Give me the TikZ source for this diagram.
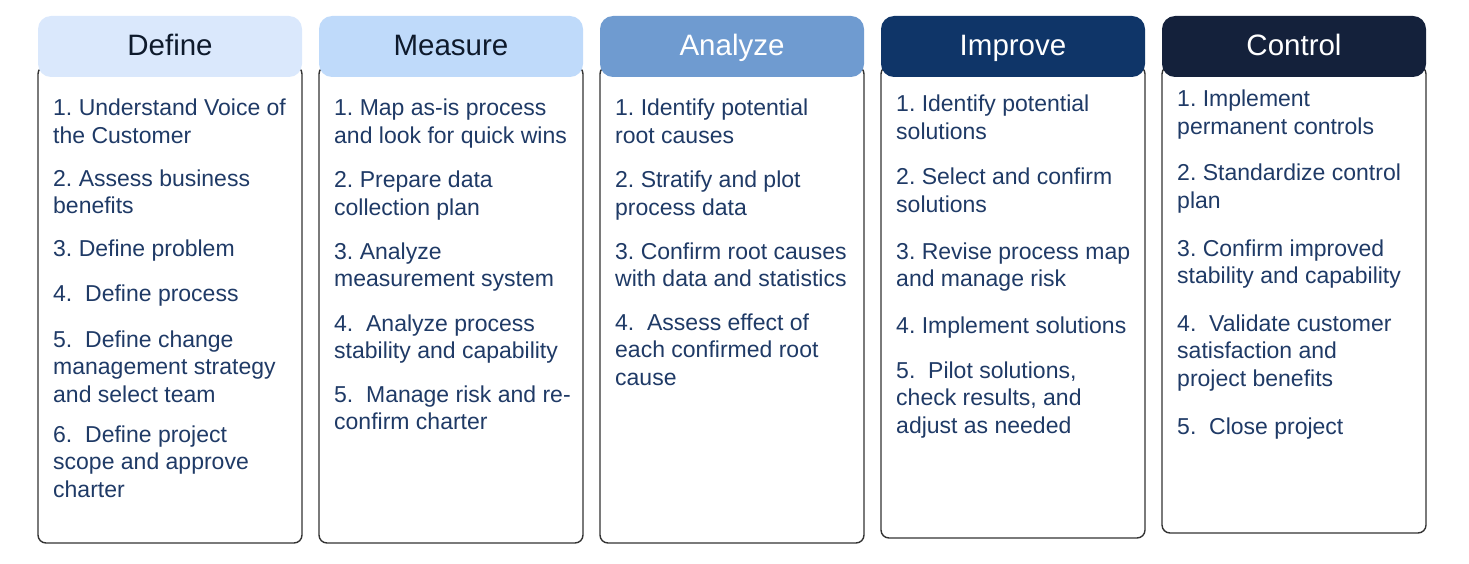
\documentclass[tikz,border=0pt]{standalone}
\usepackage{fontspec}
\setmainfont{Liberation Sans}
\frenchspacing
\definecolor{txt}{HTML}{1F3A66}
\definecolor{hdark}{HTML}{0E1A2C}
\definecolor{cDefine}{HTML}{DAE8FC}
\definecolor{cMeasure}{HTML}{BFDAFA}
\definecolor{cAnalyze}{HTML}{6F9BD0}
\definecolor{cImprove}{HTML}{0F3568}
\definecolor{cControl}{HTML}{14213B}
\definecolor{frame}{HTML}{333333}
\newcommand{\itm}[1]{\parbox[t]{262pt}{\raggedright\frenchspacing #1}}
\begin{document}
\begin{tikzpicture}[x=1pt,y=-1pt,
  colbox/.style={draw=frame, line width=1.4pt, rounded corners=8pt, fill=white},
  headtxt/.style={font=\fontsize{29.5}{34}\selectfont, anchor=base, inner sep=0pt},
  itemtxt/.style={anchor=base west, inner sep=0pt, text=txt, font=\fontsize{23}{27.7}\selectfont}]
\useasboundingbox (0,0) rectangle (1469,564);
% columns: left x, bottom y, colour, header text colour, name
\foreach \n/\lx/\by/\col/\tc/\lab in {D/38/543/cDefine/hdark/Define, M/319/543/cMeasure/hdark/Measure, A/600/543/cAnalyze/white/Analyze, I/881/538/cImprove/white/Improve, C/1162/533/cControl/white/Control}{
  \draw[colbox] (\lx,66) rectangle ({\lx+264},\by);
  \fill[\col, rounded corners=13pt] (\lx,16) rectangle ({\lx+264},77);
  \node[headtxt, text=\tc] (h\n) at ({\lx+132},56) {\lab};
}
% Define
\node[itemtxt] (d1) at (53,116) {\itm{1. Understand Voice of\\the Customer}};
\node[itemtxt] (d2) at (53,186) {\itm{2. Assess business\\benefits}};
\node[itemtxt] (d3) at (53,256) {\itm{3. Define problem}};
\node[itemtxt] (d4) at (53,301) {\itm{4.\ \ Define process}};
\node[itemtxt] (d5) at (53,347) {\itm{5.\ \ Define change\\management strategy\\and select team}};
\node[itemtxt] (d6) at (53,442) {\itm{6.\ \ Define project\\scope and approve\\charter}};
% Measure
\node[itemtxt] (m1) at (334,116) {\itm{1. Map as-is process\\and look for quick wins}};
\node[itemtxt] (m2) at (334,188) {\itm{2. Prepare data\\collection plan}};
\node[itemtxt] (m3) at (334,259) {\itm{3. Analyze\\measurement system}};
\node[itemtxt] (m4) at (334,331) {\itm{4.\ \ Analyze process\\stability and capability}};
\node[itemtxt] (m5) at (334,402) {\itm{5.\ \ Manage risk and re-\\confirm charter}};
% Analyze
\node[itemtxt] (a1) at (615,116) {\itm{1. Identify potential\\root causes}};
\node[itemtxt] (a2) at (615,188) {\itm{2. Stratify and plot\\process data}};
\node[itemtxt] (a3) at (615,259) {\itm{3. Confirm root causes\\with data and statistics}};
\node[itemtxt] (a4) at (615,330) {\itm{4.\ \ Assess effect of\\each confirmed root\\cause}};
% Improve
\node[itemtxt] (i1) at (896,112) {\itm{1. Identify potential\\solutions}};
\node[itemtxt] (i2) at (896,185) {\itm{2. Select and confirm\\solutions}};
\node[itemtxt] (i3) at (896,259) {\itm{3. Revise process map\\and manage risk}};
\node[itemtxt] (i4) at (896,333) {\itm{4. Implement solutions}};
\node[itemtxt] (i5) at (896,378) {\itm{5.\ \ Pilot solutions,\\check results, and\\adjust as needed}};
% Control
\node[itemtxt] (c1) at (1177,107) {\itm{1. Implement\\permanent controls}};
\node[itemtxt] (c2) at (1177,181) {\itm{2. Standardize control\\plan}};
\node[itemtxt] (c3) at (1177,256) {\itm{3. Confirm improved\\stability and capability}};
\node[itemtxt] (c4) at (1177,331) {\itm{4.\ \ Validate customer\\satisfaction and\\project benefits}};
\node[itemtxt] (c5) at (1177,434) {\itm{5.\ \ Close project}};
\end{tikzpicture}
\end{document}
